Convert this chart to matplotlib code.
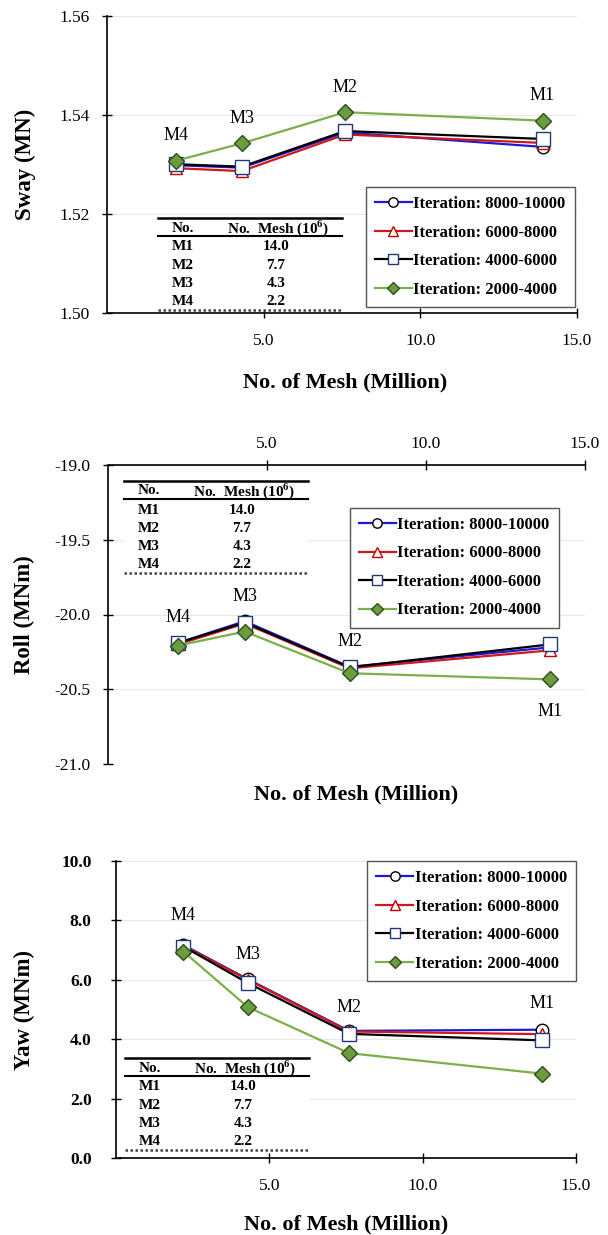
import matplotlib.pyplot as plt
from matplotlib.lines import Line2D
from matplotlib.patches import Rectangle
from matplotlib.ticker import FormatStrFormatter

plt.rcParams['font.family'] = ['Liberation Serif', 'DejaVu Serif']
plt.rcParams['axes.unicode_minus'] = False
plt.rcParams['mathtext.fontset'] = 'custom'
plt.rcParams['mathtext.rm'] = 'Liberation Serif'
plt.rcParams['mathtext.bf'] = 'Liberation Serif:bold'

# mesh positions as plotted (M4, M3, M2, M1)
mesh_names = ['M4', 'M3', 'M2', 'M1']
mesh_x = [2.2, 4.3, 7.6, 13.9]

# inset table
table_names = ['M1', 'M2', 'M3', 'M4']
table_mesh = [14.0, 7.7, 4.3, 2.2]

series_labels = ['Iteration: 8000-10000', 'Iteration: 6000-8000',
                 'Iteration: 4000-6000', 'Iteration: 2000-4000']

sway_8000 = [1.5298, 1.5293, 1.5364, 1.5335]
sway_6000 = [1.5292, 1.5286, 1.5360, 1.5343]
sway_4000 = [1.5300, 1.5295, 1.5367, 1.5351]
sway_2000 = [1.5307, 1.5342, 1.5405, 1.5388]

roll_8000 = [-20.19, -20.045, -20.35, -20.22]
roll_6000 = [-20.20, -20.06, -20.36, -20.24]
roll_4000 = [-20.19, -20.054, -20.353, -20.20]
roll_2000 = [-20.208, -20.114, -20.393, -20.434]

yaw_8000 = [7.17, 6.02, 4.28, 4.32]
yaw_6000 = [7.15, 6.00, 4.26, 4.17]
yaw_4000 = [7.12, 5.89, 4.18, 3.96]
yaw_2000 = [6.95, 5.08, 3.53, 2.84]

styles = [
    dict(color='#1a1ad8', marker='o', ms=9, mfc='white', mec='black'),
    dict(color='#d01818', marker='^', ms=9, mfc='white', mec='#c00000'),
    dict(color='black', marker='s', ms=10, mfc='white', mec='#1f3a7a'),
    dict(color='#7aaf4a', marker='D', ms=8, mfc='#6b9d3c', mec='#2e4d1c'),
]

W, H = 608, 1235
fig = plt.figure(figsize=(W / 100, H / 100), dpi=100)


def px(x, y):
    return x / W, 1 - y / H


def draw_table(x0, y0):
    fig.add_artist(Rectangle(px(x0, y0 + 93), 184 / W, 93 / H, facecolor='white',
                             edgecolor='none', transform=fig.transFigure, zorder=3))
    for dy, lw, ls, c in [(0, 1.8, '-', 'black'), (18, 1.5, '-', 'black'),
                          (92, 1.8, (0, (1, 1)), '#444444')]:
        xs = [x0 / W, (x0 + 184) / W]
        ys = [1 - (y0 + dy) / H] * 2
        fig.add_artist(Line2D(xs, ys, lw=lw, ls=ls, color=c,
                              transform=fig.transFigure, zorder=4))
    fig.text(*px(x0 + 25, y0 + 10), 'No.', ha='center', va='center',
             fontsize=11, weight='bold', zorder=5)
    fig.text(*px(x0 + 120, y0 + 10), r'No.  Mesh (10$^{\mathbf{6}}$)', ha='center',
             va='center', fontsize=11, weight='bold', zorder=5)
    for i, (n, m) in enumerate(zip(table_names, table_mesh)):
        yy = y0 + 29 + i * 18.3
        fig.text(*px(x0 + 25, yy), n, ha='center', va='center',
                 fontsize=11, weight='bold', zorder=5)
        fig.text(*px(x0 + 118, yy), f'{m:.1f}', ha='center', va='center',
                 fontsize=11, weight='bold', zorder=5)


def draw_panel(ax, data, offsets):
    for vals, st, lab in zip(data, styles, series_labels):
        ax.plot(mesh_x, vals, lw=1.6, label=lab, clip_on=False, zorder=3, **st)
    for i, name in enumerate(mesh_names):
        col = [d[i] for d in data]
        ref = max(col) if offsets[i] > 0 else min(col)
        ax.annotate(name, (mesh_x[i], ref), xytext=(0, offsets[i]),
                    textcoords='offset points', ha='center', va='center', fontsize=13)
    ax.set_xlim(0, 15)
    ax.set_xticks([5, 10, 15])
    ax.xaxis.set_major_formatter(FormatStrFormatter('%.1f'))
    ax.yaxis.grid(True, color='#e8e8e8', lw=0.8)
    ax.set_axisbelow(True)
    ax.tick_params(direction='inout', length=7, width=1, labelsize=12.5)
    for s in ax.spines.values():
        s.set_linewidth(1.2)


leg_kw = dict(prop={'weight': 'bold', 'size': 12}, handlelength=2.2,
              handletextpad=0.1, labelspacing=0.75, borderpad=0.55,
              borderaxespad=0, markerscale=0.75, fancybox=False,
              framealpha=1, edgecolor='#555555')

# Sway
ax1 = fig.add_axes([107 / W, 1 - 312.7 / H, 470 / W, 297 / H])
draw_panel(ax1, [sway_8000, sway_6000, sway_4000, sway_2000], [18, 18, 18, 18])
ax1.set_ylim(1.50, 1.56)
ax1.set_yticks([1.50, 1.52, 1.54, 1.56])
ax1.yaxis.set_major_formatter(FormatStrFormatter('%.2f'))
ax1.spines['top'].set_visible(False)
ax1.spines['right'].set_visible(False)
ax1.tick_params(axis='x', pad=11)
ax1.tick_params(axis='y', pad=9)
ax1.set_ylabel('Sway (MN)', fontsize=16.5, weight='bold')
ax1.yaxis.set_label_coords(-0.151, 0.5)
ax1.set_xlabel('No. of Mesh (Million)', fontsize=16, weight='bold')
ax1.xaxis.set_label_coords(0.506, -0.2)
ax1.legend(loc='lower right', bbox_to_anchor=(0.995, 0.02), **leg_kw)

# Roll
ax2 = fig.add_axes([108 / W, 1 - 764 / H, 477 / W, 299 / H])
draw_panel(ax2, [roll_8000, roll_6000, roll_4000, roll_2000], [18, 18, 18, -23])
ax2.set_ylim(-21.0, -19.0)
ax2.set_yticks([-21.0, -20.5, -20.0, -19.5, -19.0])
ax2.yaxis.set_major_formatter(FormatStrFormatter('%.1f'))
ax2.xaxis.tick_top()
ax2.xaxis.set_label_position('bottom')
ax2.spines['bottom'].set_visible(False)
ax2.spines['right'].set_visible(False)
ax2.spines['top'].set_linestyle((0, (1, 1)))
ax2.spines['left'].set_linestyle((0, (1, 1)))
ax2.tick_params(axis='x', pad=6)
ax2.tick_params(axis='y', pad=9)
ax2.set_ylabel('Roll (MNm)', fontsize=16.5, weight='bold')
ax2.yaxis.set_label_coords(-0.153, 0.5)
ax2.set_xlabel('No. of Mesh (Million)', fontsize=16, weight='bold')
ax2.xaxis.set_label_coords(0.52, -0.07)
ax2.legend(loc='upper right', bbox_to_anchor=(0.945, 0.857), **leg_kw)

# Yaw
ax3 = fig.add_axes([116 / W, 1 - 1158 / H, 460 / W, 297 / H])
draw_panel(ax3, [yaw_8000, yaw_6000, yaw_4000, yaw_2000], [21, 18, 17, 19])
ax3.set_ylim(0, 10)
ax3.set_yticks([0, 2, 4, 6, 8, 10])
ax3.yaxis.set_major_formatter(FormatStrFormatter('%.1f'))
ax3.spines['top'].set_visible(False)
ax3.spines['right'].set_visible(False)
ax3.tick_params(axis='x', pad=11)
ax3.tick_params(axis='y', pad=14)
for t in ax3.get_yticklabels():
    t.set_fontweight('bold')
ax3.set_ylabel('Yaw (MNm)', fontsize=16.5, weight='bold')
ax3.yaxis.set_label_coords(-0.176, 0.5)
ax3.set_xlabel('No. of Mesh (Million)', fontsize=16, weight='bold')
ax3.xaxis.set_label_coords(0.5, -0.19)
ax3.legend(loc='upper right', bbox_to_anchor=(1.0, 1.0), **leg_kw)

draw_table(158, 218)
draw_table(124, 481)
draw_table(125, 1058)

fig.savefig('out.png', dpi=100)
